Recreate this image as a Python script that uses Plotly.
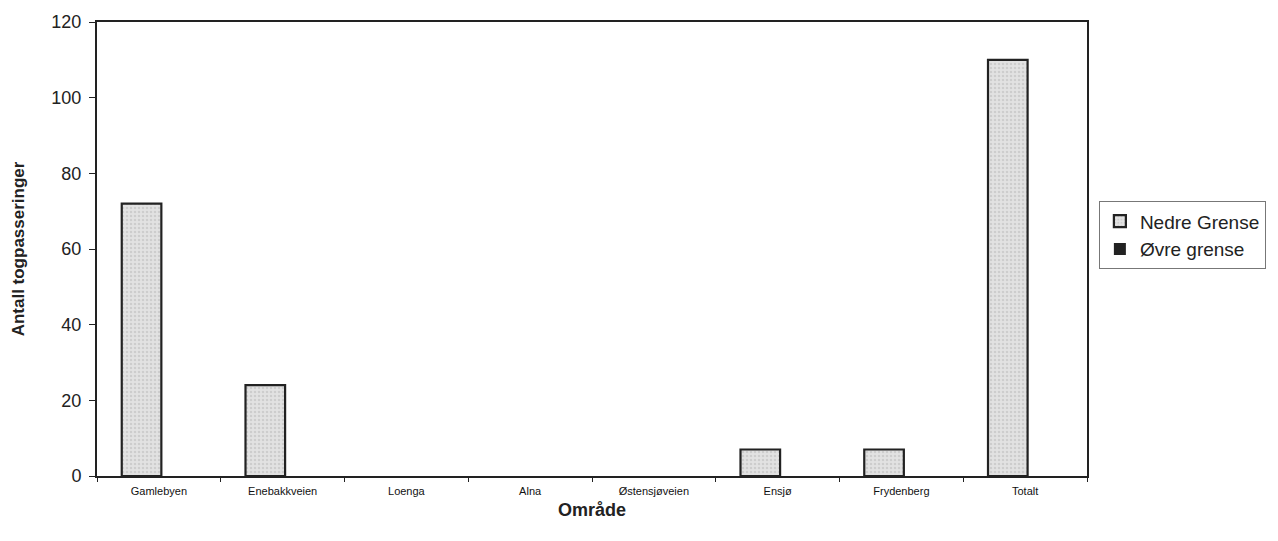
import plotly.graph_objects as go

categories = ["Gamlebyen", "Enebakkveien", "Loenga", "Alna", "Østensjøveien", "Ensjø", "Frydenberg", "Totalt"]
nedre = [72, 24, 0, 0, 0, 7, 7, 110]
ovre = [0, 0, 0, 0, 0, 0, 0, 0]
y_ticks = [0, 20, 40, 60, 80, 100, 120]

# no outline on bars of zero height
nedre_line = [2.2 if v > 0 else 0 for v in nedre]

fig = go.Figure()
fig.add_trace(go.Bar(
    x=categories, y=nedre, name="Nedre Grense",
    width=0.32, offset=-0.30,
    marker=dict(color="#d6d6d6", line=dict(color="#222222", width=nedre_line),
                pattern=dict(shape=".", fgcolor="#b8b8b8", bgcolor="#e2e2e2", size=4, solidity=0.3)),
))
fig.add_trace(go.Bar(
    x=categories, y=ovre, name="Øvre grense",
    width=0.32, offset=0.02,
    marker=dict(color="#222222", line=dict(color="#222222", width=0)),
))

font = "Liberation Sans, Arial, sans-serif"
fig.update_layout(
    width=1278, height=541,
    margin=dict(l=97, r=191, t=18, b=65),
    paper_bgcolor="white", plot_bgcolor="white",
    barmode="overlay",
    font=dict(family=font, color="#222222"),
    showlegend=True,
    legend=dict(x=1.012, y=0.605, xanchor="left", yanchor="top",
                bordercolor="#777777", borderwidth=1,
                font=dict(size=19, family=font, color="#222222"),
                itemwidth=30, tracegroupgap=2),
    xaxis=dict(
        title=dict(text="<b>Område</b>", font=dict(size=18, family=font), standoff=7),
        showline=True, linecolor="#222222", linewidth=2, mirror=True,
        ticks="outside", tickson="boundaries", ticklen=4, tickcolor="#222222",
        tickfont=dict(size=11, family=font, color="#111111"),
        ticklabelstandoff=4,
        showgrid=False,
    ),
    yaxis=dict(
        title=dict(text="<b>Antall togpasseringer</b>", font=dict(size=17, family=font), standoff=22),
        range=[0, 120], tickvals=y_ticks,
        showline=True, linecolor="#222222", linewidth=2, mirror=True,
        ticks="outside", ticklen=6, tickcolor="#222222",
        tickfont=dict(size=18, family=font),
        ticklabelstandoff=4,
        showgrid=False, zeroline=False,
    ),
)

fig.write_html("out.html")
